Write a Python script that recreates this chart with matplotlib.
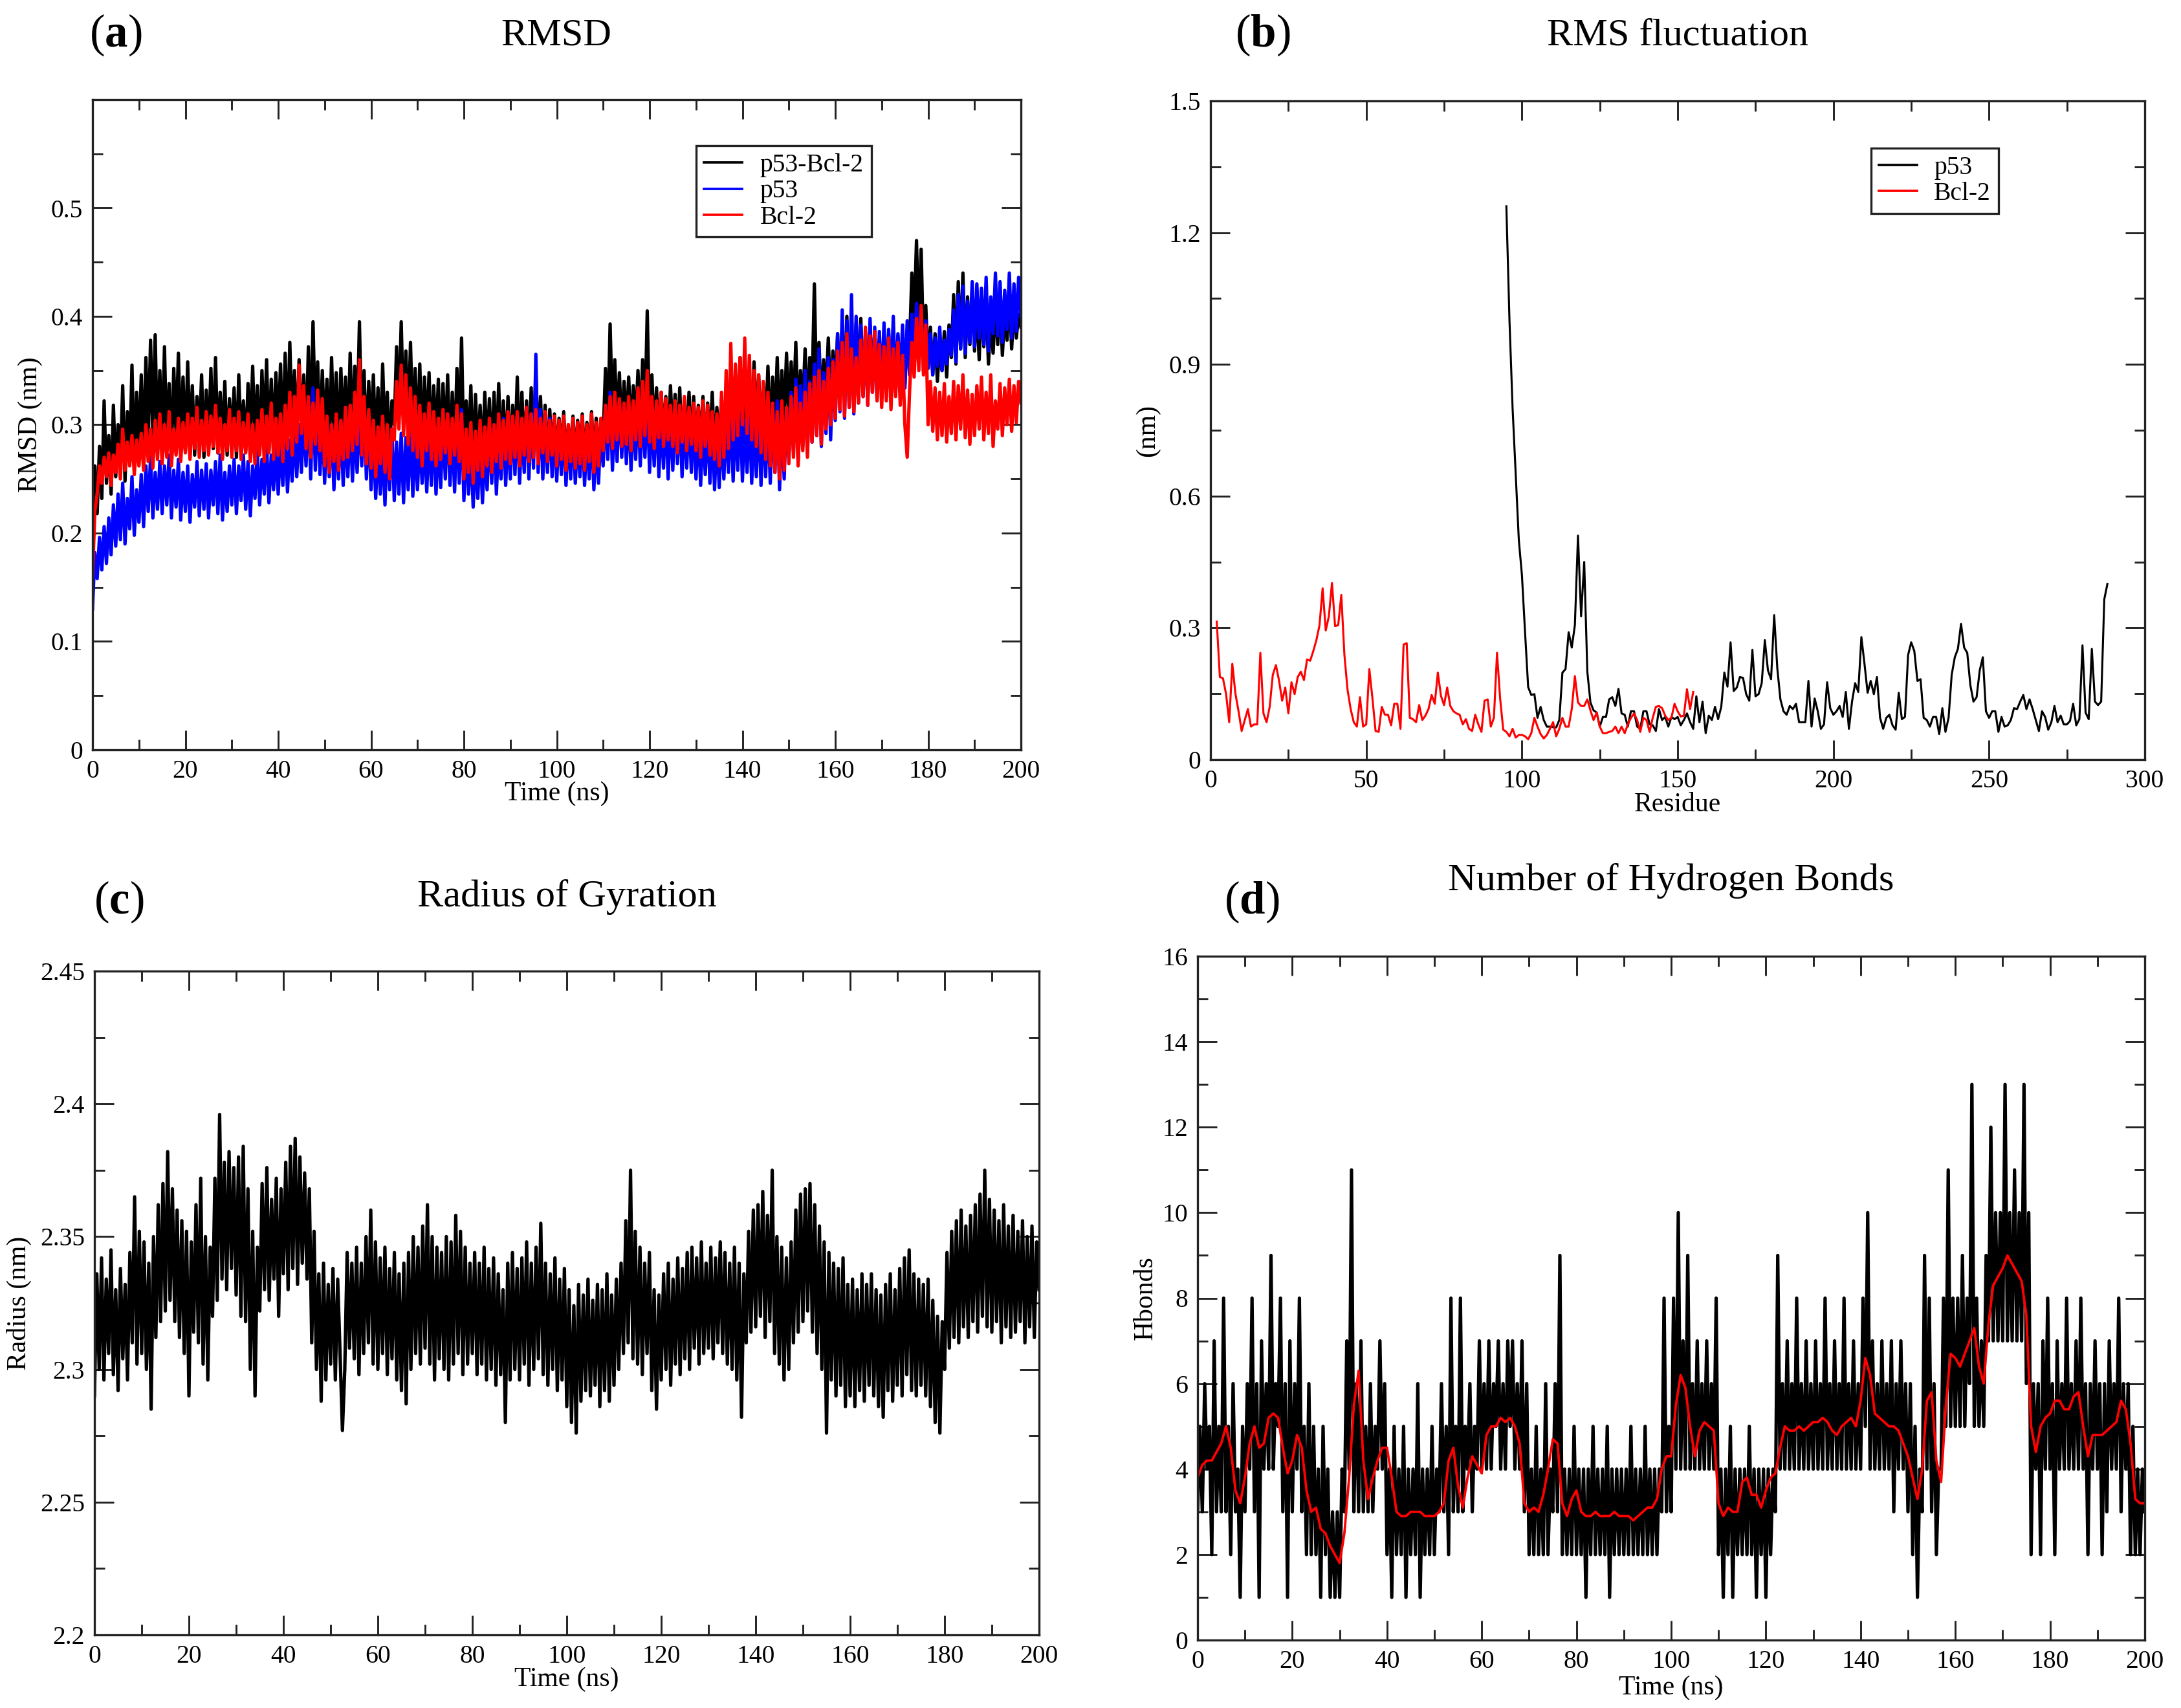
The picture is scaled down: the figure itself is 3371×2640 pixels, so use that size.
import numpy as np
import matplotlib
matplotlib.use('Agg')
import matplotlib.pyplot as plt
from matplotlib.ticker import MultipleLocator, FixedLocator, FuncFormatter

plt.rcParams['font.family'] = ['Liberation Serif', 'DejaVu Serif']
plt.rcParams['mathtext.fontset'] = 'custom'
plt.rcParams['mathtext.rm'] = 'Liberation Serif'
plt.rcParams['mathtext.bf'] = 'Liberation Serif:bold'

# ---------------- DATA ----------------
# (a) RMSD, values in 1e-3 nm, sampled every 0.5 ns
rmsd_complex_m = [
    150,262,218,280,232,322,246,290,236,318,
    252,300,262,336,248,312,270,355,262,330,
    278,346,272,362,284,378,290,383,276,350,
    282,372,276,338,270,352,292,366,280,344,
    276,358,284,336,272,326,288,346,270,332,
    280,352,278,362,274,330,284,340,272,324,
    286,334,270,346,282,322,276,338,290,354,
    282,336,274,350,288,360,276,342,284,348,
    292,356,278,366,286,376,300,350,288,360,
    296,346,282,372,290,395,300,358,284,350,
    292,342,280,362,286,348,276,352,294,344,
    284,366,290,354,300,395,288,350,276,340,
    290,346,280,334,272,356,286,330,274,322,
    300,372,310,395,304,368,296,376,292,352,
    284,356,276,344,290,348,278,336,284,342,
    272,338,282,346,268,330,274,352,286,380,
    268,322,276,336,262,328,270,318,264,330,
    276,324,268,330,272,338,262,322,270,326,
    264,318,276,344,270,330,268,322,272,334,
    282,348,276,326,270,318,262,314,272,310,
    270,306,276,312,266,300,272,308,268,304,
    274,310,268,302,276,312,264,306,272,300,
    288,352,296,393,306,360,300,348,292,340,
    298,344,290,336,300,350,294,360,306,405,
    296,346,290,334,286,330,292,326,284,336,
    290,328,282,334,276,322,288,330,280,326,
    276,318,284,326,272,320,280,330,274,316,
    278,324,270,330,284,336,278,346,286,362,
    294,352,286,340,292,358,300,346,290,338,
    296,354,288,344,300,362,294,350,302,366,
    306,358,312,376,304,350,318,370,310,362,
    330,430,322,376,316,360,326,380,318,368,
    332,384,326,392,338,400,330,386,340,394,
    342,398,336,380,346,392,338,386,344,378,
    334,376,342,384,336,370,340,382,330,372,
    338,380,372,440,396,470,384,462,370,410,
    352,390,346,384,340,376,350,386,344,392,
    362,420,356,432,370,440,362,418,374,426,
    368,410,360,424,372,416,356,400,366,412,
    374,418,364,406,378,422,370,412,380,402,
    390]
rmsd_p53_m = [
    130,182,158,196,166,206,172,214,180,226,
    188,236,194,246,190,232,204,252,198,240,
    210,254,206,262,220,270,214,256,222,266,
    218,262,226,272,214,258,224,268,212,256,
    220,262,210,254,224,266,216,258,222,264,
    214,258,226,266,218,272,212,256,220,262,
    226,268,218,262,230,272,222,266,216,262,
    232,276,226,268,236,282,228,272,240,280,
    236,282,244,290,238,286,248,294,252,300,
    256,308,262,322,250,334,258,318,254,306,
    246,296,252,300,240,292,250,304,244,298,
    252,306,248,300,256,312,262,320,250,304,
    240,290,232,282,236,278,226,288,240,296,
    230,284,236,292,228,288,240,296,234,286,
    240,290,246,286,238,294,244,300,236,288,
    242,302,250,310,244,298,238,306,246,314,
    230,286,236,280,224,272,232,284,228,278,
    240,294,246,300,236,288,250,306,244,296,
    250,306,254,312,246,300,256,316,250,310,
    260,365,256,314,250,302,256,306,252,298,
    248,296,254,300,244,294,250,302,246,290,
    252,298,244,292,250,300,240,288,246,296,
    262,316,268,330,258,312,266,322,270,318,
    264,318,258,310,268,322,262,316,270,326,
    256,312,262,320,252,308,260,316,250,312,
    258,318,264,314,252,306,260,312,256,304,
    250,302,244,298,254,306,246,300,240,294,
    242,296,250,304,256,314,248,308,258,320,
    248,304,256,312,246,300,252,316,244,306,
    252,310,246,318,256,322,240,304,250,316,
    270,330,276,342,266,336,280,350,274,340,
    284,356,290,370,280,348,292,362,286,360,
    304,384,312,406,306,396,316,420,310,400,
    320,392,326,384,318,398,330,390,324,386,
    332,394,326,388,336,400,330,384,340,392,
    334,396,346,402,360,412,356,408,350,396,
    352,384,346,380,354,390,350,378,356,388,
    364,406,358,420,370,428,366,414,376,432,
    372,430,380,426,374,436,368,418,384,440,
    382,432,376,424,388,440,380,430,386,436,
    400]
rmsd_bcl2_m = [
    160,220,236,262,246,270,252,274,244,272,
    256,282,250,296,258,284,262,290,254,286,
    262,292,258,300,266,296,260,304,268,310,
    264,300,270,312,262,296,272,306,266,302,
    274,310,268,306,278,316,270,304,276,312,
    272,308,280,318,274,306,268,300,276,314,
    270,306,276,312,268,302,274,310,266,300,
    264,304,272,314,266,308,274,320,268,306,
    272,310,266,318,278,330,272,326,284,355,
    292,336,278,326,270,320,282,332,276,324,
    262,308,256,300,266,310,258,304,268,316,
    270,318,276,330,282,360,272,326,264,314,
    260,304,252,298,264,308,256,300,250,296,
    286,340,296,355,290,346,282,334,276,326,
    270,318,262,310,276,320,268,312,262,306,
    268,314,274,310,264,306,272,318,266,310,
    250,296,256,302,246,294,258,304,252,298,
    262,306,256,300,266,310,260,304,268,312,
    264,308,270,312,262,306,272,316,266,310,
    270,314,264,306,274,312,266,304,272,308,
    262,304,268,308,258,300,266,306,260,302,
    264,308,258,300,266,310,256,302,262,306,
    276,318,284,326,278,330,286,324,280,320,
    282,326,276,322,286,334,280,340,290,350,
    284,326,278,322,288,330,280,324,286,318,
    280,322,274,318,284,326,276,316,282,320,
    276,316,270,322,280,318,272,312,268,310,
    262,330,270,350,278,375,286,356,290,362,
    300,380,292,364,286,350,280,346,274,340,
    268,330,262,320,256,312,250,322,258,316,
    264,326,270,334,262,320,276,330,270,338,
    284,344,290,350,282,340,296,352,300,358,
    306,368,314,376,308,384,316,370,312,362,
    320,378,326,390,318,382,330,386,322,374,
    316,372,322,380,314,370,326,376,318,364,
    300,270,330,376,344,398,350,410,346,392,
    300,340,294,334,286,330,290,338,284,326,
    292,340,286,336,296,346,288,332,282,328,
    290,336,296,344,286,330,292,346,280,322,
    296,338,290,334,300,342,294,336,302,340,
    320]
rmsd_labels = ['p53-Bcl-2', 'p53', 'Bcl-2']

# (b) RMSF per residue, values in 1e-3 nm
rmsf_p53_first_res = 95
rmsf_p53_m = [
    1260,1000,800,650,500,420,290,165,147,149,
    95,120,90,75,75,74,73,90,198,206,
    290,255,306,510,326,450,200,130,112,107,
    75,97,97,137,142,122,161,105,102,75,
    110,110,75,70,110,110,80,78,65,115,
    90,97,75,97,92,97,78,90,105,85,
    70,144,85,132,60,100,90,120,92,120,
    198,166,267,156,164,188,186,149,134,250,
    144,149,174,272,203,183,329,208,137,110,
    102,122,115,127,85,85,85,179,75,139,
    110,70,80,176,117,102,110,122,97,154,
    70,132,174,154,279,218,152,179,149,188,
    95,70,95,102,78,68,152,92,97,238,
    267,247,179,183,95,90,75,97,97,58,
    117,63,95,193,233,252,309,255,243,169,
    132,142,203,233,110,95,110,110,63,97,
    75,78,90,117,115,132,147,115,137,115,
    90,65,110,97,68,85,122,85,100,80,
    80,88,127,78,92,260,107,92,252,132,
    124,132,365,400]
rmsf_bcl2_first_res = 2
rmsf_bcl2_m = [
    314,188,185,149,85,218,150,110,65,
    90,115,75,80,80,243,105,85,120,193,
    215,180,134,164,105,176,149,188,200,181,
    228,225,247,272,306,390,294,326,402,304,
    306,375,238,159,115,85,75,142,75,80,
    206,139,65,63,120,102,102,78,127,127,
    70,262,265,95,92,85,124,90,100,115,
    147,127,198,145,124,164,122,110,105,102,
    80,92,70,65,102,80,63,134,137,75,
    95,243,139,68,63,53,70,50,56,56,
    53,46,60,95,75,58,48,56,70,85,
    53,70,95,75,75,115,190,130,122,122,
    137,112,90,107,75,60,60,63,65,75,
    60,75,60,80,95,105,90,63,95,90,
    63,95,120,122,117,100,90,95,127,110,
    98,100,160,115,154]
rmsf_labels = ['p53', 'Bcl-2']

# (c) Radius of gyration, values in 1e-3 nm, every 0.5 ns
rg_m = [
    2290,2336,2300,2342,2296,2334,2306,2345,2298,2330,
    2292,2338,2304,2332,2296,2344,2310,2365,2302,2352,
    2306,2348,2300,2340,2285,2350,2312,2362,2318,2370,
    2322,2382,2326,2368,2318,2360,2312,2356,2306,2352,
    2290,2348,2314,2362,2310,2372,2302,2350,2296,2346,
    2320,2372,2326,2396,2334,2378,2330,2382,2338,2376,
    2328,2380,2320,2384,2318,2368,2300,2352,2290,2346,
    2322,2370,2330,2376,2326,2364,2334,2372,2320,2368,
    2336,2378,2330,2384,2338,2387,2332,2380,2340,2374,
    2334,2368,2310,2352,2300,2336,2288,2340,2296,2332,
    2302,2338,2296,2334,2306,2277,2300,2344,2308,2340,
    2304,2346,2298,2340,2306,2350,2310,2360,2302,2348,
    2300,2342,2306,2346,2298,2338,2304,2344,2296,2336,
    2292,2340,2287,2344,2300,2350,2306,2346,2302,2354,
    2308,2362,2302,2350,2296,2346,2304,2344,2300,2350,
    2296,2348,2302,2358,2306,2352,2298,2346,2302,2340,
    2306,2344,2298,2340,2302,2346,2296,2338,2300,2342,
    2294,2336,2298,2330,2280,2340,2296,2344,2300,2338,
    2296,2342,2302,2348,2294,2340,2300,2346,2304,2355,
    2298,2340,2294,2336,2300,2342,2292,2334,2296,2338,
    2286,2330,2280,2324,2276,2332,2288,2328,2292,2334,
    2290,2326,2294,2332,2286,2330,2292,2336,2288,2328,
    2294,2334,2300,2340,2306,2356,2310,2375,2304,2352,
    2302,2346,2298,2340,2306,2344,2292,2330,2285,2328,
    2296,2336,2300,2340,2294,2334,2302,2342,2298,2338,
    2304,2344,2300,2346,2308,2342,2302,2348,2306,2340,
    2308,2346,2304,2342,2310,2348,2306,2344,2302,2340,
    2300,2346,2296,2340,2282,2336,2310,2352,2314,2360,
    2316,2362,2320,2367,2312,2358,2318,2375,2306,2350,
    2302,2346,2296,2342,2300,2348,2310,2360,2314,2366,
    2318,2368,2322,2370,2314,2362,2306,2354,2300,2348,
    2276,2344,2296,2340,2290,2338,2294,2342,2286,2332,
    2290,2334,2286,2330,2292,2336,2288,2332,2294,2336,
    2290,2330,2286,2328,2282,2332,2292,2336,2288,2330,
    2294,2338,2290,2342,2298,2345,2292,2336,2290,2334,
    2294,2332,2290,2334,2286,2326,2280,2320,2276,2318,
    2300,2344,2308,2352,2312,2356,2310,2360,2316,2354,
    2312,2358,2318,2362,2314,2366,2320,2375,2316,2364,
    2314,2360,2318,2356,2310,2362,2316,2354,2312,2358,
    2314,2352,2318,2356,2310,2350,2316,2354,2312,2348,
    2330]

# (d) Hydrogen bonds, count every 0.5 ns
hbonds = [
    3,5,3,6,4,5,2,7,3,5,
    3,8,3,5,2,6,3,4,1,5,
    3,6,4,8,3,6,1,7,4,6,
    4,9,4,6,5,8,3,6,1,7,
    3,6,4,8,3,5,2,6,2,5,
    2,4,1,5,2,4,1,3,1,3,
    1,4,3,7,4,11,3,6,3,7,
    3,5,3,6,3,5,4,7,4,6,
    2,4,1,5,2,4,2,5,1,4,
    2,4,2,6,1,4,2,4,2,5,
    2,4,3,6,3,5,2,8,3,5,
    3,8,3,5,4,6,3,5,4,7,
    4,6,4,7,4,6,5,7,4,6,
    4,7,5,7,4,6,4,7,3,6,
    2,4,2,5,2,4,2,6,2,4,
    3,6,3,9,2,4,2,4,2,5,
    2,4,2,4,1,4,2,5,2,4,
    2,4,2,5,1,4,2,4,2,4,
    2,4,2,5,2,4,2,4,2,5,
    2,4,2,4,2,4,3,8,3,5,
    3,8,4,10,4,7,4,9,4,6,
    4,7,4,6,4,7,4,6,4,8,
    2,4,1,4,2,5,1,4,2,4,
    2,4,2,5,2,4,1,4,2,4,
    1,4,2,4,3,9,4,6,4,7,
    4,6,4,8,4,6,4,7,4,6,
    4,7,4,6,4,8,4,6,4,7,
    4,6,4,8,4,6,4,7,4,6,
    4,8,5,10,4,7,4,6,4,7,
    4,6,4,7,3,6,4,7,4,6,
    3,6,2,5,1,4,3,9,4,8,
    3,6,2,4,4,8,5,11,5,8,
    5,8,5,9,5,8,6,13,5,8,
    5,7,5,9,7,12,7,10,7,10,
    7,13,7,10,7,11,7,10,7,13,
    6,10,2,6,4,6,2,7,4,8,
    4,6,2,7,4,6,4,8,4,6,
    4,7,4,8,4,6,2,6,4,7,
    4,6,2,6,3,7,4,6,4,8,
    3,6,4,6,2,5,2,4,2,4,
    3]
# running average of hydrogen bonds (tenths), every 1 ns
hbonds_avg_t = [
    38,41,42,42,44,46,50,45,35,32,
    38,46,50,45,46,52,53,52,45,39,
    42,48,45,35,30,31,26,25,22,20,
    18,25,38,55,63,42,33,38,42,45,
    45,38,30,29,29,30,30,30,29,29,
    29,30,32,42,45,36,31,38,43,41,
    39,48,50,50,52,51,52,50,46,32,
    30,31,30,34,40,47,46,32,29,33,
    35,30,29,29,30,29,29,29,30,29,
    29,29,28,29,30,31,31,33,40,43,
    43,55,62,59,50,43,49,51,50,49,
    32,29,31,30,30,37,38,34,34,31,
    35,38,39,45,50,49,49,50,49,50,
    51,51,52,51,49,48,50,51,52,50,
    56,66,62,53,52,51,50,50,49,46,
    43,38,33,40,56,58,42,37,55,67,
    66,64,67,70,73,64,60,74,83,85,
    87,90,88,86,84,76,50,44,50,52,
    53,56,56,54,54,57,58,50,43,48,
    48,48,49,50,51,56,54,46,33,32,
    32]

# ---------------- FIGURE ----------------
W, H = 3371, 2640
fig = plt.figure(figsize=(W / 300, H / 300), dpi=300)


def add_axes_px(l, t, r, b):
    return fig.add_axes([l / W, 1 - b / H, (r - l) / W, (b - t) / H])


fmt = FuncFormatter(lambda v, p: f"{round(v, 4):g}")


def style(ax, xmaj, xmin, ymaj, ymin):
    ax.xaxis.set_major_locator(MultipleLocator(xmaj))
    ax.xaxis.set_minor_locator(MultipleLocator(xmin))
    if isinstance(ymaj, list):
        ax.yaxis.set_major_locator(FixedLocator(ymaj))
        ax.yaxis.set_minor_locator(FixedLocator(ymin))
    else:
        ax.yaxis.set_major_locator(MultipleLocator(ymaj))
        ax.yaxis.set_minor_locator(MultipleLocator(ymin))
    ax.xaxis.set_major_formatter(fmt)
    ax.yaxis.set_major_formatter(fmt)
    ax.tick_params(which='both', direction='in', top=True, right=True,
                   labelsize=9.5, width=0.7, color='#222222')
    ax.tick_params(which='major', length=7.2)
    ax.tick_params(which='minor', length=3.8)
    ax.tick_params(axis='x', which='both', pad=3.5)
    ax.tick_params(axis='y', which='both', pad=3.6)
    for s in ax.spines.values():
        s.set_linewidth(0.8)
        s.set_color('#222222')


def panel_label(x_px, base_px, letter):
    fig.text(x_px / W, 1 - base_px / H, "(" + r"$\mathbf{" + letter + "}$" + ")",
             fontsize=17, ha='left', va='baseline')


def panel_title(xc_px, base_px, text):
    fig.text(xc_px / W, 1 - base_px / H, text, fontsize=14.5, ha='center', va='baseline')


DENSE_LW = 1.25

# (a) RMSD
axa = add_axes_px(143, 154, 1578, 1159)
t_a = np.arange(len(rmsd_complex_m)) * 0.5
axa.plot(t_a, np.array(rmsd_complex_m) / 1000, color='black', lw=DENSE_LW, label=rmsd_labels[0])
axa.plot(t_a, np.array(rmsd_p53_m) / 1000, color='#0000ff', lw=DENSE_LW, label=rmsd_labels[1])
axa.plot(t_a, np.array(rmsd_bcl2_m) / 1000, color='#ff0000', lw=DENSE_LW, label=rmsd_labels[2])
axa.set_xlim(0, 200)
axa.set_ylim(0, 0.6)
style(axa, 20, 10, [0, 0.1, 0.2, 0.3, 0.4, 0.5],
      [0.05, 0.15, 0.25, 0.35, 0.45, 0.55])
axa.set_xlabel('Time (ns)', fontsize=10)
axa.set_ylabel('RMSD (nm)', fontsize=10)
axa.xaxis.set_label_coords(0.5, -0.048)
axa.yaxis.set_label_coords(-0.054, 0.5)
leg = axa.legend(loc='upper left', bbox_to_anchor=(0.650, 0.929), borderaxespad=0,
                 fontsize=9.5, frameon=True, fancybox=False, framealpha=1,
                 edgecolor='#222222', handlelength=1.5, handletextpad=0.7,
                 borderpad=0.3, labelspacing=0.08)
leg.get_frame().set_linewidth(0.8)
for ln in leg.get_lines():
    ln.set_linewidth(0.9)
panel_label(138, 72, 'a')
panel_title(860, 69, 'RMSD')

# (b) RMSF
axb = add_axes_px(1871, 156, 3315, 1174)
res_p53 = np.arange(len(rmsf_p53_m)) + rmsf_p53_first_res
res_bcl2 = np.arange(len(rmsf_bcl2_m)) + rmsf_bcl2_first_res
axb.plot(res_p53, np.array(rmsf_p53_m) / 1000, color='black', lw=0.75, label=rmsf_labels[0])
axb.plot(res_bcl2, np.array(rmsf_bcl2_m) / 1000, color='#ff0000', lw=0.75, label=rmsf_labels[1])
axb.set_xlim(0, 300)
axb.set_ylim(0, 1.5)
style(axb, 50, 25, 0.3, 0.15)
axb.set_xlabel('Residue', fontsize=10)
axb.set_ylabel('(nm)', fontsize=10)
axb.xaxis.set_label_coords(0.5, -0.050)
axb.yaxis.set_label_coords(-0.054, 0.5)
legb = axb.legend(loc='upper left', bbox_to_anchor=(0.707, 0.928), borderaxespad=0,
                  fontsize=9.5, frameon=True, fancybox=False, framealpha=1,
                  edgecolor='#222222', handlelength=1.5, handletextpad=0.65,
                  borderpad=0.3, labelspacing=0.08)
legb.get_frame().set_linewidth(0.8)
for ln in legb.get_lines():
    ln.set_linewidth(0.9)
panel_label(1909, 72, 'b')
panel_title(2593, 69, 'RMS fluctuation')

# (c) Radius of gyration
axc = add_axes_px(146, 1501, 1606, 2527)
t_c = np.arange(len(rg_m)) * 0.5
axc.plot(t_c, np.array(rg_m) / 1000, color='black', lw=DENSE_LW)
axc.set_xlim(0, 200)
axc.set_ylim(2.2, 2.45)
style(axc, 20, 10, 0.05, 0.025)
axc.set_xlabel('Time (ns)', fontsize=10)
axc.set_ylabel('Radius (nm)', fontsize=10)
axc.xaxis.set_label_coords(0.5, -0.0487)
axc.yaxis.set_label_coords(-0.0664, 0.5)
panel_label(145, 1412, 'c')
panel_title(876, 1401, 'Radius of Gyration')

# (d) Hydrogen bonds
axd = add_axes_px(1851, 1478, 3315, 2535)
t_d = np.arange(len(hbonds)) * 0.5
t_avg = np.arange(len(hbonds_avg_t)) * 1.0
axd.plot(t_d, hbonds, color='black', lw=DENSE_LW)
axd.plot(t_avg, np.array(hbonds_avg_t) / 10, color='#ff0000', lw=0.9)
axd.set_xlim(0, 200)
axd.set_ylim(0, 16)
style(axd, 20, 10, 2, 1)
axd.set_xlabel('Time (ns)', fontsize=10)
axd.set_ylabel('Hbonds', fontsize=10)
axd.xaxis.set_label_coords(0.5, -0.052)
axd.yaxis.set_label_coords(-0.0417, 0.5)
panel_label(1892, 1412, 'd')
panel_title(2583, 1376, 'Number of Hydrogen Bonds')

fig.savefig('out.png', dpi=300)
